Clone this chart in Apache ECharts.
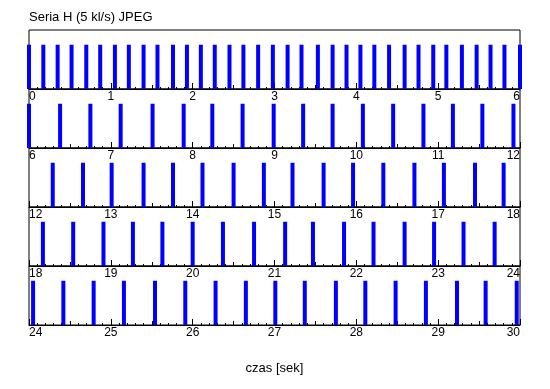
<!DOCTYPE html>
<html>
<head>
<meta charset="utf-8">
<script src="https://cdn.jsdelivr.net/npm/echarts@6/dist/echarts.min.js"></script>
<style>html,body{margin:0;padding:0;background:#fff;}#c{width:550px;height:389px;}</style>
</head>
<body>
<div id="c"></div>
<script>
// Event times (seconds)
const frameTimes = [
  0.00, 0.175, 0.35, 0.52, 0.70, 0.87, 1.05, 1.22, 1.40, 1.57, 1.76, 1.93,
  2.10, 2.27, 2.45, 2.62, 2.80, 2.98, 3.16, 3.33, 3.53, 3.71, 3.88, 4.05,
  4.22, 4.40, 4.59, 4.76, 4.94, 5.10, 5.29, 5.47, 5.64, 5.81, 6.00,
  6.38, 6.75, 7.12, 7.51, 7.89, 8.24, 8.61, 8.99, 9.35, 9.71, 10.08, 10.45,
  10.82, 11.18, 11.54, 11.92,
  12.29, 12.66, 13.01, 13.40, 13.76, 14.12, 14.50, 14.87, 15.22, 15.60,
  15.96, 16.33, 16.71, 17.07, 17.45, 17.80,
  18.17, 18.54, 18.91, 19.27, 19.63, 20.00, 20.37, 20.75, 21.13, 21.47,
  21.85, 22.21, 22.59, 22.95, 23.31, 23.69,
  24.05, 24.42, 24.79, 25.16, 25.54, 25.91, 26.28, 26.65, 27.01, 27.37,
  27.75, 28.11, 28.48, 28.85, 29.23, 29.58, 29.96
];
const rowStarts = [0, 6, 12, 18, 24];
const rowSpan = 6;
const barValue = 3;      // bar height in y units (axis 0..4)
const titleText = 'Seria H (5 kl/s) JPEG';
const xAxisTitle = 'czas [sek]';

const FONT = "'Liberation Sans', Arial, sans-serif";
const grids = [], xAxes = [], yAxes = [], series = [];
const gridTop = 30, rowH = 59;

rowStarts.forEach((lo, k) => {
  const hi = lo + rowSpan;
  grids.push({
    left: 29, right: 30, top: gridTop + k * rowH, height: rowH,
    show: true, borderColor: '#000', borderWidth: 1, backgroundColor: 'transparent'
  });
  // main axis: integer ticks + labels + 0.1 minor ticks
  xAxes.push({
    type: 'value', gridIndex: k, min: lo, max: hi, interval: 1,
    axisLine: { show: true, onZero: false, lineStyle: { color: '#000', width: 1 } },
    axisTick: { show: true, inside: true, length: 6, lineStyle: { color: '#000' } },
    minorTick: { show: true, splitNumber: 10, length: 2, lineStyle: { color: '#000' } },
    splitLine: { show: false },
    axisLabel: {
      show: true, color: '#000', fontSize: 12, fontFamily: FONT, margin: 2,
      alignMinLabel: 'left', alignMaxLabel: 'right'
    },
    name: k === rowStarts.length - 1 ? xAxisTitle : '',
    nameLocation: 'middle', nameGap: 37,
    nameTextStyle: { color: '#000', fontSize: 13, fontFamily: FONT }
  });
  yAxes.push({ type: 'value', gridIndex: k, min: 0, max: 4, show: false });
});
// half-second ticks
rowStarts.forEach((lo, k) => {
  xAxes.push({
    type: 'value', gridIndex: k, min: lo, max: lo + rowSpan, interval: 0.5,
    position: 'bottom',
    axisLine: { show: false, onZero: false },
    axisTick: { show: true, inside: true, length: 4, lineStyle: { color: '#000' } },
    axisLabel: { show: false }, splitLine: { show: false }
  });
});
rowStarts.forEach((lo, k) => {
  const hi = lo + rowSpan;
  series.push({
    type: 'bar', xAxisIndex: k, yAxisIndex: k, barWidth: 4, clip: false,
    itemStyle: { color: '#0000ff' }, silent: true, animation: false,
    data: frameTimes.filter(t => t >= lo - 1e-6 && t <= hi + 1e-6).map(t => [t, barValue])
  });
});

const chart = echarts.init(document.getElementById('c'), null, { renderer: 'canvas' });
chart.setOption({
  backgroundColor: '#fff',
  animation: false,
  title: {
    text: titleText, left: 29, top: 11, padding: 0,
    textStyle: { color: '#000', fontSize: 13, fontWeight: 'normal', fontFamily: FONT }
  },
  grid: grids, xAxis: xAxes, yAxis: yAxes, series: series
});
</script>
</body>
</html>
